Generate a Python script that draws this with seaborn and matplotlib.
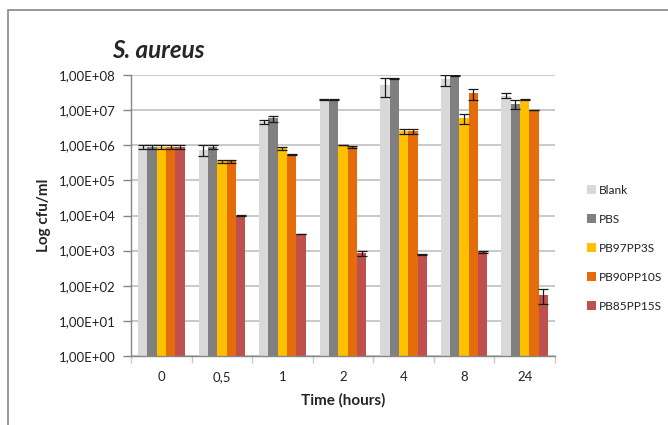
import numpy as np
import pandas as pd
import matplotlib
matplotlib.use("Agg")
import matplotlib.pyplot as plt
from matplotlib.patches import Rectangle
from matplotlib.ticker import FuncFormatter, FixedLocator, NullLocator
import seaborn as sns

# ---- data ----
times = ["0", "0,5", "1", "2", "4", "8", "24"]
series = ["Blank", "PBS", "PB97PP3S", "PB90PP10S", "PB85PP15S"]
blank = [9.0e5, 7.5e5, 4.6e6, 2.0e7, 5.2e7, 7.5e7, 2.6e7]
blank_err = [1.0e5, 2.5e5, 5.0e5, 2.0e5, 2.8e7, 2.5e7, 4.0e6]
pbs = [9.0e5, 9.0e5, 5.8e6, 2.0e7, 8.0e7, 9.5e7, 1.5e7]
pbs_err = [1.0e5, 1.0e5, 1.2e6, 2.0e5, 1.0e6, 2.0e6, 4.0e6]
pb97 = [9.0e5, 3.5e5, 8.2e5, 1.0e6, 2.5e6, 6.0e6, 2.0e7]
pb97_err = [1.0e5, 4.0e4, 1.0e5, 1.0e4, 4.0e5, 2.0e6, 2.0e5]
pb90 = [9.0e5, 3.5e5, 5.5e5, 8.8e5, 2.5e6, 3.0e7, 1.0e7]
pb90_err = [1.0e5, 4.0e4, 3.0e4, 6.0e4, 4.0e5, 1.0e7, 1.0e5]
pb85 = [9.0e5, 1.0e4, 3.0e3, 8.5e2, 7.8e2, 9.3e2, 55]
pb85_err = [1.0e5, 1.0e2, 3.0e1, 1.5e2, 3.0e1, 5.0e1, 25]
yticks = [1e0, 1e1, 1e2, 1e3, 1e4, 1e5, 1e6, 1e7, 1e8]

values = [blank, pbs, pb97, pb90, pb85]
errors = [blank_err, pbs_err, pb97_err, pb90_err, pb85_err]
colors = ["#d9d9d9", "#808080", "#ffc000", "#e46c0a", "#c0504d"]

rows = []
for s, vals in zip(series, values):
    for t, v in zip(times, vals):
        rows.append({"Time": t, "Series": s, "Value": v})
df = pd.DataFrame(rows)

sns.set_style("white")
FONT = ["Lato", "DejaVu Sans"]
plt.rcParams["font.family"] = FONT

W, H = 668, 425
fig = plt.figure(figsize=(W / 100, H / 100), dpi=100)
ax = fig.add_axes([131 / W, 1 - 356 / H, (555 - 131) / W, (356 - 75) / H])
ax.set_yscale("log")

sns.barplot(data=df, x="Time", y="Value", hue="Series", order=times,
            hue_order=series, palette=colors, width=0.77, saturation=1,
            errorbar=None, ax=ax, legend=True, edgecolor="none")

# error bars from the bar containers
for cont, errs, vals in zip(ax.containers, errors, values):
    xs = [p.get_x() + p.get_width() / 2 for p in cont.patches]
    ax.errorbar(xs, vals, yerr=errs, fmt="none", ecolor="#1a1a1a",
                elinewidth=0.9, capsize=3.4, capthick=0.9, zorder=5)

ax.set_ylim(1, 1e8)
ax.set_xlim(-0.5, len(times) - 0.5)
ax.yaxis.set_major_locator(FixedLocator(yticks))
ax.yaxis.set_minor_locator(NullLocator())
ax.yaxis.set_major_formatter(
    FuncFormatter(lambda v, p: "1,00E+%02d" % int(round(np.log10(v)))))
ax.grid(axis="y", color="#c0c0c0", linewidth=1.2)
ax.set_axisbelow(True)

for side in ["top", "right"]:
    ax.spines[side].set_visible(False)
for side in ["left", "bottom"]:
    ax.spines[side].set_color("#868686")
    ax.spines[side].set_linewidth(1)

ax.tick_params(axis="y", which="major", length=6, width=1, color="#868686",
               labelsize=9.5, pad=5, left=True, labelcolor="#222222")
ax.tick_params(axis="x", which="major", length=0, labelsize=9.5, pad=11,
               labelcolor="#222222")
# category separator ticks
ax.set_xticks(np.arange(-0.5, len(times) + 0.5, 1), minor=True)
ax.tick_params(axis="x", which="minor", length=5, width=1, color="#c8c8c8",
               bottom=True)

ax.set_xlabel("Time (hours)", fontsize=11, fontweight="bold", labelpad=7)
ax.set_ylabel("Log cfu/ml", fontsize=11, fontweight="bold", labelpad=6)

fig.text(112 / W, 1 - 50 / H, "S. aureus", fontsize=17.5, fontweight="bold",
         fontstyle="italic", ha="left", va="center")

handles, labels = ax.get_legend_handles_labels()
ax.legend_.remove()
fig.legend(handles, labels, loc="upper left",
           bbox_to_anchor=(581 / W, 1 - 179 / H), frameon=False,
           fontsize=8.6, handlelength=0.75, handleheight=0.75,
           handletextpad=0.25, labelspacing=1.5, borderpad=0,
           labelcolor="#222222")

# outer chart frame
fig.patches.append(Rectangle((8 / W, -0.2), 1.2, 1.2 - 10 / H,
                             transform=fig.transFigure, fill=False,
                             edgecolor="#868686", linewidth=1.2,
                             clip_on=False))

fig.savefig("out.png", dpi=100, facecolor="white")
